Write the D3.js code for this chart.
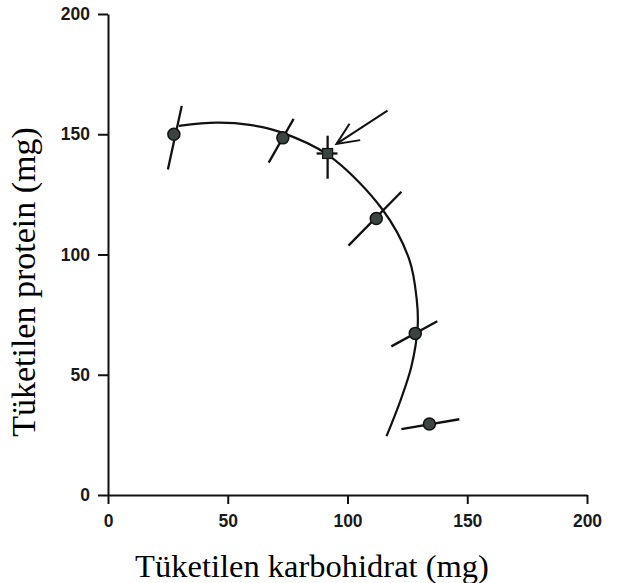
<!DOCTYPE html>
<html>
<head>
<meta charset="utf-8">
<script src="https://cdn.jsdelivr.net/npm/d3@7/dist/d3.min.js"></script>
<style>
  html, body { margin: 0; padding: 0; background: #fff; }
  svg { display: block; }
</style>
</head>
<body>
<svg id="chart" width="625" height="583"></svg>
<script>
// Intake measurements (mg): carbohydrate vs protein
const carbs   = [27.5, 73, 112, 128.3, 134.2];
const protein = [150, 148.5, 115, 67.2, 29.5];

// tilted spread bars through each circle: [x1, y1, x2, y2]
const spreadBars = [
  [30.8, 161.8, 25.0, 135.3],
  [77.5, 156.4, 67.1, 138.2],
  [122.5, 126.1, 100.4, 103.7],
  [137.5, 72.2, 118.3, 61.8],
  [122.5, 27.4, 146.7, 31.5]
];

// highlighted intake target (square) with its cross bars
const target = { carb: 91.7, prot: 142 };
const targetVBar = [131.5, 149.4];   // protein range
const targetHBar = [87.1, 95.8];     // carbohydrate range

// arrow pointing at the target: tail then tip
const arrowTail = [116.7, 159.8];
const arrowTip  = [95.4, 146.0];

// intake trajectory curve
const curveCarb = [29.6, 45.4, 59.2, 71.7, 91.7, 114.6, 125.8, 128.9, 129.3, 126.7, 122.3, 116.3];
const curveProt = [153.5, 154.8, 153.9, 151.0, 141.5, 118.7, 97.9, 81.3, 70.1, 53.5, 39.8, 24.5];

const ticks = [0, 50, 100, 150, 200];
const xTitle = "Tüketilen karbohidrat (mg)";
const yTitle = "Tüketilen protein (mg)";

const svg = d3.select("#chart");
const x = d3.scaleLinear().domain([0, 200]).range([108, 587]);
const y = d3.scaleLinear().domain([0, 200]).range([495, 14]);

// axes
const xAxis = d3.axisBottom(x).tickValues(ticks).tickSize(9).tickSizeOuter(0).tickPadding(11);
const yAxis = d3.axisLeft(y).tickValues(ticks).tickSize(10).tickSizeOuter(0).tickPadding(8);

const gx = svg.append("g").attr("transform", `translate(0,${y(0)})`).call(xAxis);
const gy = svg.append("g").attr("transform", `translate(${x(0)},0)`).call(yAxis);

[gx, gy].forEach(g => {
  g.selectAll("path.domain").attr("stroke", "#111").attr("stroke-width", 2);
  g.selectAll(".tick line").attr("stroke", "#111").attr("stroke-width", 2);
  g.selectAll(".tick text")
    .attr("fill", "#1a1a1a")
    .style("font-family", "'Liberation Sans', Arial, sans-serif")
    .style("font-weight", "bold")
    .style("font-size", "17.5px");
});

// trajectory curve
const line = d3.line()
  .x(d => x(d[0]))
  .y(d => y(d[1]))
  .curve(d3.curveCatmullRom.alpha(0.5));

svg.append("path")
  .datum(curveCarb.map((c, i) => [c, curveProt[i]]))
  .attr("d", line)
  .attr("fill", "none")
  .attr("stroke", "#111")
  .attr("stroke-width", 2.2);

// spread bars
svg.append("g").selectAll("line")
  .data(spreadBars)
  .join("line")
  .attr("x1", d => x(d[0])).attr("y1", d => y(d[1]))
  .attr("x2", d => x(d[2])).attr("y2", d => y(d[3]))
  .attr("stroke", "#111")
  .attr("stroke-width", 2.3);

// circles
svg.append("g").selectAll("circle")
  .data(carbs.map((c, i) => [c, protein[i]]))
  .join("circle")
  .attr("cx", d => x(d[0]))
  .attr("cy", d => y(d[1]))
  .attr("r", 6)
  .attr("fill", "#3c4442")
  .attr("stroke", "#111")
  .attr("stroke-width", 1.5);

// target cross and square
const tg = svg.append("g");
tg.append("line")
  .attr("x1", x(target.carb)).attr("x2", x(target.carb))
  .attr("y1", y(targetVBar[0])).attr("y2", y(targetVBar[1]))
  .attr("stroke", "#111").attr("stroke-width", 2.3);
tg.append("line")
  .attr("x1", x(targetHBar[0])).attr("x2", x(targetHBar[1]))
  .attr("y1", y(target.prot)).attr("y2", y(target.prot))
  .attr("stroke", "#111").attr("stroke-width", 2.3);
tg.append("rect")
  .attr("x", x(target.carb) - 5).attr("y", y(target.prot) - 5)
  .attr("width", 10).attr("height", 10)
  .attr("fill", "#3c4442").attr("stroke", "#111").attr("stroke-width", 1.2);

// arrow with an open head
const ax0 = x(arrowTail[0]), ay0 = y(arrowTail[1]);
const ax1 = x(arrowTip[0]),  ay1 = y(arrowTip[1]);
const ang = Math.atan2(ay1 - ay0, ax1 - ax0);
const headLen = 24, spread = 0.42;
svg.append("line")
  .attr("x1", ax0).attr("y1", ay0).attr("x2", ax1).attr("y2", ay1)
  .attr("stroke", "#111").attr("stroke-width", 2);
svg.append("path")
  .attr("d", `M${ax1 - headLen * Math.cos(ang - spread)},${ay1 - headLen * Math.sin(ang - spread)}` +
             `L${ax1},${ay1}` +
             `L${ax1 - headLen * Math.cos(ang + spread)},${ay1 - headLen * Math.sin(ang + spread)}`)
  .attr("fill", "none").attr("stroke", "#111").attr("stroke-width", 2);

// axis titles
svg.append("text")
  .attr("x", 312).attr("y", 577)
  .attr("text-anchor", "middle")
  .style("font-family", "'Liberation Serif', 'Times New Roman', serif")
  .style("font-size", "32.5px")
  .attr("fill", "#000")
  .text(xTitle);

svg.append("text")
  .attr("transform", "translate(35,282) rotate(-90)")
  .attr("text-anchor", "middle")
  .style("font-family", "'Liberation Serif', 'Times New Roman', serif")
  .style("font-size", "34px")
  .attr("fill", "#000")
  .text(yTitle);
</script>
</body>
</html>
